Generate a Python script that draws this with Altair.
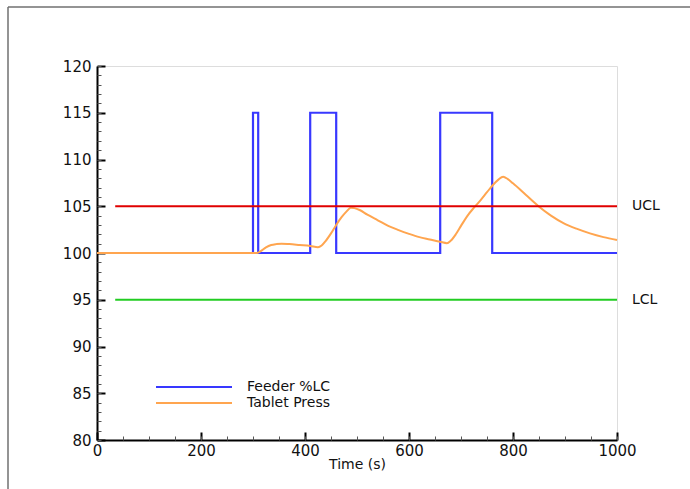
import altair as alt
import pandas as pd

# ---- data ----
feeder_t = [0, 300, 310, 410, 460, 660, 760, 1000]
feeder_v = [100, 115, 100, 115, 100, 115, 100, 100]

press_t = [0, 300, 308, 315, 325, 335, 345, 355, 370, 390, 410, 425, 432, 440, 450,
           460, 470, 480, 488, 495, 505, 520, 540, 560, 580, 600, 620, 640, 660, 673,
           680, 690, 700, 712, 725, 737, 750, 761, 772, 781, 790, 800, 825, 849, 873,
           897, 922, 948, 974, 1000]
press_v = [100, 100, 100, 100.2, 100.6, 100.85, 100.95, 101.0, 100.95, 100.85, 100.75,
           100.62, 100.8, 101.3, 102.1, 103.0, 103.8, 104.45, 104.85, 104.8, 104.6, 104.1,
           103.5, 102.9, 102.45, 102.05, 101.7, 101.45, 101.2, 101.05, 101.3, 102.0, 102.9,
           103.95, 104.85, 105.6, 106.5, 107.25, 107.85, 108.15, 107.9, 107.45, 106.2,
           105.0, 104.0, 103.2, 102.6, 102.1, 101.7, 101.38]

limit_t = [35, 1000]
ucl_v = [105, 105]
lcl_v = [95, 95]
limit_labels = ["UCL", "LCL"]
limit_values = [105, 95]

series_names = ["Feeder %LC", "Tablet Press"]
series_colors = ["#3838ff", "#ffa54f"]

x_major = [0, 200, 400, 600, 800, 1000]
x_minor = list(range(0, 1001, 50))
y_major = [80, 85, 90, 95, 100, 105, 110, 115, 120]
y_minor = list(range(80, 121, 1))

FONT = "DejaVu Sans"
W, H = 520, 374

feeder_df = pd.DataFrame({"t": feeder_t, "v": feeder_v, "s": series_names[0]})
press_df = pd.DataFrame({"t": press_t, "v": press_v, "s": series_names[1]})
ucl_df = pd.DataFrame({"t": limit_t, "v": ucl_v})
lcl_df = pd.DataFrame({"t": limit_t, "v": lcl_v})
lab_df = pd.DataFrame({"t": [1000, 1000], "v": limit_values, "lab": limit_labels})

xscale = alt.Scale(domain=[0, 1000], nice=False)
yscale = alt.Scale(domain=[80, 120], nice=False, zero=False)

color = alt.Color("s:N", scale=alt.Scale(domain=series_names, range=series_colors),
                  legend=alt.Legend(title=None, orient="none", legendX=58, legendY=313,
                                    symbolType="stroke", symbolSize=5776,
                                    symbolStrokeWidth=2, clipHeight=16,
                                    labelFont=FONT, labelFontSize=14, labelColor="#111",
                                    labelOffset=14, rowPadding=0))

# main axes (labels + domain)
x_main = alt.X("t:Q", scale=xscale, title="Time (s)",
               axis=alt.Axis(values=x_major, format="d", ticks=False, grid=False,
                             labelFlush=False, domainColor="black", domainWidth=2,
                             labelFont=FONT, labelFontSize=15, labelColor="#111",
                             labelPadding=3, titleFont=FONT, titleFontSize=14,
                             titleFontWeight="normal", titleColor="#111", titlePadding=-1))
y_main = alt.Y("v:Q", scale=yscale, title=None,
               axis=alt.Axis(values=y_major, format="d", ticks=False, grid=False,
                             domainColor="black", domainWidth=2, labelFont=FONT,
                             labelFontSize=15, labelColor="#111", labelPadding=6))

feeder = alt.Chart(feeder_df).mark_line(interpolate="step-after", strokeWidth=2.2).encode(
    x=x_main, y=y_main, color=color)

# major inward ticks
x_maj = alt.X("t:Q", scale=xscale, title=None,
              axis=alt.Axis(values=x_major, orient="bottom", offset=-8, tickSize=8, tickWidth=2,
                            tickColor="black", labels=False, domain=False, grid=False))
y_maj = alt.Y("v:Q", scale=yscale, title=None,
              axis=alt.Axis(values=y_major, orient="left", offset=-8, tickSize=8, tickWidth=2,
                            tickColor="black", labels=False, domain=False, grid=False))
press = alt.Chart(press_df).mark_line(interpolate="monotone", strokeWidth=2).encode(
    x=x_maj, y=y_maj, color=color)

# minor inward ticks
x_min = alt.X("t:Q", scale=xscale, title=None,
              axis=alt.Axis(values=x_minor, orient="bottom", offset=-4, tickSize=4, tickWidth=1,
                            tickColor="#555", labels=False, domain=False, grid=False))
y_min = alt.Y("v:Q", scale=yscale, title=None,
              axis=alt.Axis(values=y_minor, orient="left", offset=-4, tickSize=4, tickWidth=1,
                            tickColor="#555", labels=False, domain=False, grid=False))
ucl = alt.Chart(ucl_df).mark_line(color="#e00000", strokeWidth=2).encode(x=x_min, y=y_min)

lcl = alt.Chart(lcl_df).mark_line(color="#22cc22", strokeWidth=2).encode(
    x=alt.X("t:Q", scale=xscale, axis=None), y=alt.Y("v:Q", scale=yscale, axis=None))

labels = alt.Chart(lab_df).mark_text(align="left", baseline="middle", dx=15, font=FONT,
                                     fontSize=14, color="#111").encode(
    x=alt.X("t:Q", scale=xscale, axis=None), y=alt.Y("v:Q", scale=yscale, axis=None),
    text="lab:N")

# outer frame (decoration, top and left edges)
frame_top = alt.Chart(pd.DataFrame({"a": [0]})).mark_rule(color="#707070", strokeWidth=1.5).encode(
    x=alt.value(-89), x2=alt.value(600), y=alt.value(-59))
frame_left = alt.Chart(pd.DataFrame({"a": [0]})).mark_rule(color="#707070", strokeWidth=1.5).encode(
    x=alt.value(-89), y=alt.value(-59), y2=alt.value(430))

chart = alt.layer(feeder, press, ucl, lcl, labels, frame_top, frame_left).resolve_axis(
    x="independent", y="independent").properties(
    width=W, height=H, autosize=alt.AutoSizeParams(type="none"),
    padding={"left": 97, "top": 66, "right": 73, "bottom": 49},
).configure_view(stroke=None).configure(background="white")

chart.save("out.html", embed_options={"renderer": "svg", "actions": False})
